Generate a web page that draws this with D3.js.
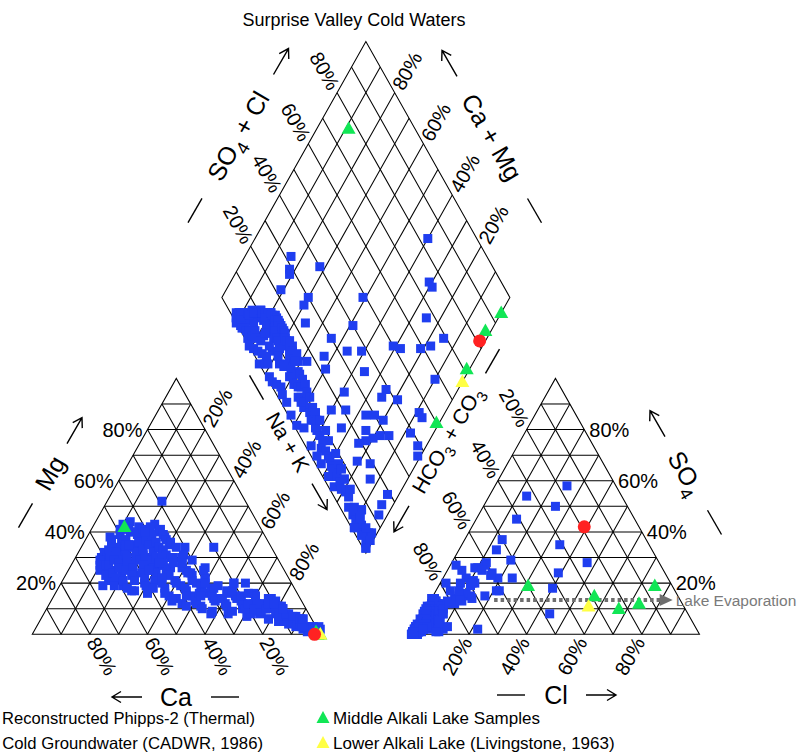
<!DOCTYPE html>
<html>
<head>
<meta charset="utf-8">
<script src="https://cdn.jsdelivr.net/npm/d3@7"></script>
<style>
  body { margin: 0; background: #fff; }
  text { font-family: "Liberation Sans", Arial, Helvetica, sans-serif; fill: #000; }
</style>
</head>
<body>
<svg id="chart" width="799" height="754"></svg>
<script>
// Each sample: [Mg, Na+K, SO4, Cl] as percent of meq/L.
// Ca = 100 - Mg - (Na+K); HCO3+CO3 = 100 - SO4 - Cl.
const coldGroundwater = [
  // Ca/Mg-HCO3 waters near the left corner of the diamond
  [38,8,1,1],[32,9,2,1],[30,9,1,0],[41,10,2,2],[35,10,1,1],[27,11,3,1],[30,11,2,2],
  [44,12,4,1],[28,12,3,2],[36,13,5,2],[26,13,2,1],[33,14,6,1],[40,14,3,2],[25,15,5,3],
  [31,15,7,1],[42,16,6,3],[21,16,4,2],[35,17,8,2],[29,18,6,4],[38,18,9,2],[24,19,7,3],
  [33,20,10,3],[43,21,8,3],[27,21,11,3],[19,22,5,2],[36,22,10,5],[31,23,9,2],[40,24,12,3],
  [23,24,6,4],[34,25,11,4],[28,26,7,3],[17,26,10,3],[38,27,9,5],[25,28,5,2],[32,29,11,3],
  [20,29,8,5],[35,30,6,4],[27,31,10,2],[16,32,9,6],[30,33,4,3],[22,34,8,5],[26,35,10,2],
  [34,36,5,5],[18,37,9,3],
  [29,9,0,1],[37,9,1,2],[27,10,3,0],[43,10,2,1],[33,10,0,0],[39,11,4,0],[25,11,0,2],
  [34,12,1,0],[27,12,5,1],[30,12,6,0],[41,13,0,1],[27,13,7,1],[32,13,3,3],[23,14,1,1],
  [37,14,8,0],[29,14,4,4],[35,15,2,0],[19,15,9,0],[40,15,5,4],[28,16,1,2],[33,16,10,1],
  [24,16,7,4],[39,17,0,1],[26,17,5,6],[31,17,11,0],[22,18,2,1],[34,18,9,3],[41,18,4,1],
  [28,19,0,0],[36,19,12,1],[19,19,6,5],[32,20,3,1],[25,20,8,6],[42,20,13,1],[30,21,1,0],
  [21,21,12,2],[37,21,5,5],[26,22,14,1],[33,22,2,3],[39,22,7,1],[23,23,0,2],[35,23,13,2],
  [29,23,9,5],[30,24,2,10],[18,24,11,2],[41,24,8,7],[27,25,2,1],[36,25,14,0],[21,25,6,6],
  [32,26,0,0],[24,26,12,3],[39,26,3,4],[29,27,9,2],[17,27,1,3],[34,27,13,2],[22,28,5,6],
  [37,28,1,1],[30,28,11,4],[26,29,3,0],[33,29,14,1],[19,30,7,3],[28,30,1,9],[36,30,12,2],
  [24,31,4,4],[31,31,13,1],[27,32,1,0],[21,32,11,4],[34,33,8,6],[18,33,3,11],[25,34,12,3],
  [30,34,0,1],[20,35,6,2],[28,35,13,1],
  // mixed cation waters
  [28,38,8,2],[21,39,4,4],[15,40,6,3],[25,41,9,3],[19,42,3,5],[14,43,7,2],[23,44,5,4],
  [17,45,8,3],[12,46,4,3],[20,47,6,2],[15,48,3,4],[22,49,7,3],[13,50,5,2],[18,50,2,5],
  [23,36,1,1],[31,37,11,2],[16,38,3,0],[26,39,12,2],[20,40,0,2],[29,41,6,5],[13,42,10,2],
  [24,43,1,1],[18,44,11,1],[21,45,2,8],[15,46,9,3],[26,47,0,1],[11,48,10,1],[19,49,4,4],
  [16,50,9,2],
  [16,52,6,3],[11,53,4,4],[19,55,5,2],[14,56,6,2],[9,58,3,4],[17,59,6,1],[12,61,4,3],
  [15,63,5,2],[8,64,3,2],[13,66,4,2],[10,68,5,1],[16,69,3,3],[7,71,3,2],[12,72,3,2],
  [9,74,3,1],[14,75,2,3],
  [12,51,0,1],[18,53,9,1],[10,54,2,1],[15,55,10,0],[13,57,1,8],[8,58,8,2],[16,60,2,0],
  [11,62,9,1],[14,64,1,1],[9,65,7,2],[12,67,0,2],[15,70,8,1],[8,72,1,1],[11,73,6,2],
  [10,76,1,1],
  // Na-HCO3 waters
  [10,77,3,2],[6,79,3,1],[11,81,2,3],[5,83,3,2],[8,85,2,1],[4,87,3,2],[7,88,1,2],[3,90,2,1],
  [2,93,2,2],[1,95,1,2],[3,96,3,1],[0,98,1,1],[1,97,2,3],[2,99,0,1],
  [14,75,5,3],[12,78,4,3],[10,82,4,3],[6,90,3,4],[5,91,2,3],[6,91,1,0],
  [3,98,2,1],[2,98,4,2],[1,99,0,1],[3,95,2,0],[2,95,3,2],[1,99,3,1],
  // waters with more sulfate and chloride
  [20,60,58,25],[35,16,20,12],[30,18,27,2],[52,19,15,13],[25,28,24,16],[40,19,20,2],
  [10,69,28,47],[12,71,50,25],[22,49,29,20],[30,30,22,8],[28,30,20,7],[8,75,54,13],
  [22,34,15,9],[15,51,28,12],[34,46,25,5],[5,85,35,34],[12,69,37,13],[10,72,8,44],
  [6,79,45,14],[7,82,24,39],[18,54,15,18],[14,59,17,21],[25,47,2,22],[30,37,9,6],
  [24,42,12,5],[28,38,6,7],[20,50,14,8],[20,64,26,9],[4,90,18,40],[10,75,27,12],
  [17,61,13,11],[9,75,26,10],[8,81,22,19],[20,60,10,6],[15,65,12,9],[4,91,22,24],
  [3,93,33,13],[12,73,16,11],[10,76,19,11],[14,76,14,10],[9,80,21,11],[11,80,17,8],
  [7,82,14,14],[13,78,17,5],[3,92,23,16],[16,67,11,5],[7,85,20,11],[1,97,17,22],
  [0,99,25,12],[12,76,12,7],[11,79,9,6],[8,84,13,6],[7,87,10,6],[14,75,5,3],
  [12,78,4,3],[10,82,4,3],[2,96,12,7],[3,96,8,7],[2,97,5,7],[6,90,3,4],[5,91,2,3],
  [6,91,1,0]
];
const reconstructedPhipps2 = [[0,98,42,39]];
const middleAlkaliLake = [[42,11,10,67],[0,99,19,31],[0,99,15,56],[0,100,19,75],[1,98,12,73]];
const lowerAlkaliLake = [[0,100,11,56]];

// Lake evaporation trend in the anion triangle: [SO4, Cl] start and end
const evaporationTrend = [[13.4,22],[13.4,84]];

const tickPercents = [20,40,60,80];
const gridSteps = d3.range(1,10).map(k => k/10);

const chartTitle = "Surprise Valley Cold Waters";
const legendEntries = [
  {label: "Reconstructed Phipps-2 (Thermal)", kind: "circle", color: "#ff2222"},
  {label: "Cold Groundwater (CADWR, 1986)", kind: "square", color: "#1f3ef0"},
  {label: "Middle Alkali Lake Samples", kind: "triangle", color: "#11e655"},
  {label: "Lower Alkali Lake (Livingstone, 1963)", kind: "triangle", color: "#ffff44"}
];

// ---------- geometry ----------
const gap = 0.3165;                 // space between the two triangles (in side lengths)
const S = Math.sqrt(3)/2;
const X = d3.scaleLinear().domain([0, 2+gap]).range([32.3, 32.3 + 288*(2+gap)]);
const Y = d3.scaleLinear().domain([0, 1]).range([634.3, 634.3 - 295.5]);

const cat = (mg, nak) => [X(nak + mg/2), Y(mg*S)];
const ani = (so4, cl) => [X(1 + gap + cl + so4/2), Y(so4*S)];
const dia = (nak, an) => [X(0.5 + gap/2 + 0.5*(an + nak)), Y(S*(1+gap) + S*(an - nak))];

const svg = d3.select("#chart");

// ---------- grid ----------
const grid = svg.append("g").attr("stroke", "#000").attr("stroke-width", 1.05).attr("fill", "none");
const seg = (p, q) => grid.append("line").attr("x1", p[0]).attr("y1", p[1]).attr("x2", q[0]).attr("y2", q[1]);
const poly = pts => grid.append("path").attr("d", d3.line()(pts) + "Z");

gridSteps.forEach(t => {
  // cation triangle
  seg(cat(t, 0), cat(t, 1-t));
  seg(cat(0, t), cat(1-t, t));
  seg(cat(0, 1-t), cat(1-t, 0));
  // anion triangle
  seg(ani(t, 0), ani(t, 1-t));
  seg(ani(0, t), ani(1-t, t));
  seg(ani(0, 1-t), ani(1-t, 0));
  // diamond
  seg(dia(0, t), dia(1, t));
  seg(dia(t, 0), dia(t, 1));
});
poly([cat(0,0), cat(0,1), cat(1,0)]);
poly([ani(0,0), ani(0,1), ani(1,0)]);
poly([dia(0,0), dia(1,0), dia(1,1), dia(0,1)]);

// ---------- percent labels along the edges ----------
const labels = svg.append("g").attr("font-size", 20);
function edgeLabel(edgePt, innerPt, txt, readsOutward) {
  let dx = edgePt[0] - innerPt[0], dy = edgePt[1] - innerPt[1];
  const len = Math.hypot(dx, dy); dx /= len; dy /= len;
  const off = 5;
  const px = edgePt[0] + dx*off, py = edgePt[1] + dy*off;
  let ang = readsOutward ? Math.atan2(dy, dx) : Math.atan2(-dy, -dx);
  ang = ang * 180 / Math.PI;
  labels.append("text")
    .attr("transform", `translate(${px},${py}) rotate(${ang})`)
    .attr("text-anchor", readsOutward ? "start" : "end")
    .attr("dy", "0.36em")
    .text(txt + "%");
}
tickPercents.forEach(p => {
  const t = p/100;
  edgeLabel(cat(t, 0), cat(t, 1-t), p, false);          // Mg, left edge
  edgeLabel(cat(1-t, t), cat(0, t), p, true);           // Na+K, right edge
  edgeLabel(cat(0, 1-t), cat(1-t, 0), p, true);         // Ca, base
  edgeLabel(ani(t, 1-t), ani(t, 0), p, true);           // SO4, right edge
  edgeLabel(ani(1-t, 0), ani(0, 1-t), p, false);        // HCO3+CO3, left edge
  edgeLabel(ani(0, t), ani(1-t, t), p, false);          // Cl, base
  edgeLabel(dia(0, t), dia(1, t), p, false);            // SO4+Cl, upper-left edge
  edgeLabel(dia(1-t, 1), dia(1-t, 0), p, true);         // Ca+Mg, upper-right edge
});

// ---------- axis titles with dash and arrow ----------
function axisTitle(cfg) {
  const g = svg.append("g").attr("transform", `translate(${cfg.x},${cfg.y}) rotate(${cfg.angle})`);
  const t = g.append("text").attr("text-anchor", "middle").attr("dy", "0.36em")
    .attr("font-size", cfg.size);
  cfg.parts.forEach(p => {
    const ts = t.append("tspan").text(p.t);
    if (p.sub) ts.attr("font-size", cfg.size*0.72).attr("dy", cfg.size*0.3);
    else if (p.after) ts.attr("dy", -cfg.size*0.3);
  });
  const dashX = cfg.arrowAtEnd ? -cfg.half : cfg.half;
  const arrowX = cfg.arrowAtEnd ? cfg.half : -cfg.half;
  const dir = cfg.arrowAtEnd ? 1 : -1;
  g.append("line").attr("x1", dashX - 14).attr("x2", dashX + 14).attr("y1", 0).attr("y2", 0)
    .attr("stroke", "#000").attr("stroke-width", 1.4);
  const tip = arrowX + dir*15;
  g.append("path")
    .attr("d", `M${arrowX - dir*15},0L${tip},0M${tip - dir*9},-5.5L${tip},0L${tip - dir*9},5.5`)
    .attr("stroke", "#000").attr("stroke-width", 1.4).attr("fill", "none");
}
const axisTitles = [
  {x: 238, y: 136, angle: -60, size: 25, half: 86, arrowAtEnd: true,
   parts: [{t: "SO"}, {t: "4", sub: true}, {t: " + Cl", after: true}]},
  {x: 492, y: 137, angle: 60, size: 25, half: 85, arrowAtEnd: false,
   parts: [{t: "Ca + Mg"}]},
  {x: 288, y: 442, angle: 60, size: 21, half: 63, arrowAtEnd: true,
   parts: [{t: "Na + K"}]},
  {x: 447, y: 440, angle: -60, size: 21, half: 91, arrowAtEnd: false,
   parts: [{t: "HCO"}, {t: "3", sub: true}, {t: " + CO", after: true}, {t: "3", sub: true}]},
  {x: 50, y: 473, angle: -60, size: 25, half: 49, arrowAtEnd: true,
   parts: [{t: "Mg"}]},
  {x: 686, y: 473, angle: 60, size: 25, half: 57, arrowAtEnd: false,
   parts: [{t: "SO"}, {t: "4", sub: true}]},
  {x: 176, y: 697, angle: 0, size: 25, half: 49, arrowAtEnd: false,
   parts: [{t: "Ca"}]},
  {x: 556, y: 695, angle: 0, size: 25, half: 45, arrowAtEnd: true,
   parts: [{t: "Cl"}]}
];
axisTitles.forEach(axisTitle);

svg.append("text").attr("x", 354).attr("y", 20).attr("dy", "0.36em")
  .attr("text-anchor", "middle").attr("font-size", 18).text(chartTitle);

// ---------- evaporation trend ----------
const evStart = ani(evaporationTrend[0][0]/100, evaporationTrend[0][1]/100);
const evEnd = ani(evaporationTrend[1][0]/100, evaporationTrend[1][1]/100);
svg.append("line").attr("x1", evStart[0]).attr("y1", evStart[1])
  .attr("x2", evEnd[0] - 12).attr("y2", evEnd[1])
  .attr("stroke", "#6e6e6e").attr("stroke-width", 4).attr("stroke-dasharray", "3.5,3");
svg.append("path")
  .attr("d", `M${evEnd[0]},${evEnd[1]}L${evEnd[0]-13},${evEnd[1]-6}L${evEnd[0]-13},${evEnd[1]+6}Z`)
  .attr("fill", "#6e6e6e");
svg.append("text").attr("x", evEnd[0] + 3).attr("y", evEnd[1]).attr("dy", "0.36em")
  .attr("font-size", 15.5).style("fill", "#7a7a7a").text("Lake Evaporation");

// ---------- samples ----------
const marks = svg.append("g");
const squareSym = d3.symbol().type(d3.symbolSquare).size(81)();
const triPath = (w, h) => `M0,${-h*0.58}L${w/2},${h*0.42}L${-w/2},${h*0.42}Z`;

function plotSeries(data, drawFn) {
  data.forEach(d => {
    const mg = d[0]/100, nak = d[1]/100, so4 = d[2]/100, cl = d[3]/100;
    [cat(mg, nak), ani(so4, cl), dia(nak, so4 + cl)].forEach(p => drawFn(p));
  });
}
plotSeries(coldGroundwater, p => marks.append("path").attr("d", squareSym)
  .attr("transform", `translate(${p[0]},${p[1]})`).attr("fill", legendEntries[1].color));
plotSeries(middleAlkaliLake, p => marks.append("path").attr("d", triPath(14, 12.5))
  .attr("transform", `translate(${p[0]},${p[1]})`).attr("fill", legendEntries[2].color));
plotSeries(lowerAlkaliLake, p => marks.append("path").attr("d", triPath(14, 12.5))
  .attr("transform", `translate(${p[0]},${p[1]})`).attr("fill", legendEntries[3].color));
plotSeries(reconstructedPhipps2, p => marks.append("circle")
  .attr("cx", p[0]).attr("cy", p[1]).attr("r", 6.5).attr("fill", legendEntries[0].color));

// ---------- legend ----------
const legend = svg.append("g").attr("font-size", 17);
const legendRows = [718, 743];
function legendSymbol(kind, color, x, y) {
  if (kind === "circle") legend.append("circle").attr("cx", x).attr("cy", y).attr("r", 6).attr("fill", color);
  else if (kind === "square") legend.append("path").attr("d", squareSym)
    .attr("transform", `translate(${x},${y})`).attr("fill", color);
  else legend.append("path").attr("d", triPath(13, 12))
    .attr("transform", `translate(${x},${y})`).attr("fill", color);
}
legendEntries.forEach((e, i) => {
  const y = legendRows[i % 2];
  if (i < 2) {
    // left column: right-aligned, kept inside the page
    const endX = i === 0 ? 255 : 263;
    const t = legend.append("text").attr("x", endX).attr("y", y).attr("dy", "0.36em")
      .attr("text-anchor", "end").text(e.label);
    let w = t.node().getComputedTextLength();
    if (w > endX - 2) {
      t.attr("font-size", 17 * (endX - 2) / w);
      w = t.node().getComputedTextLength();
    }
    legendSymbol(e.kind, e.color, endX - w - 10, y);
  } else {
    legend.append("text").attr("x", 333).attr("y", y).attr("dy", "0.36em").text(e.label);
    legendSymbol(e.kind, e.color, 323, y);
  }
});
</script>
</body>
</html>
